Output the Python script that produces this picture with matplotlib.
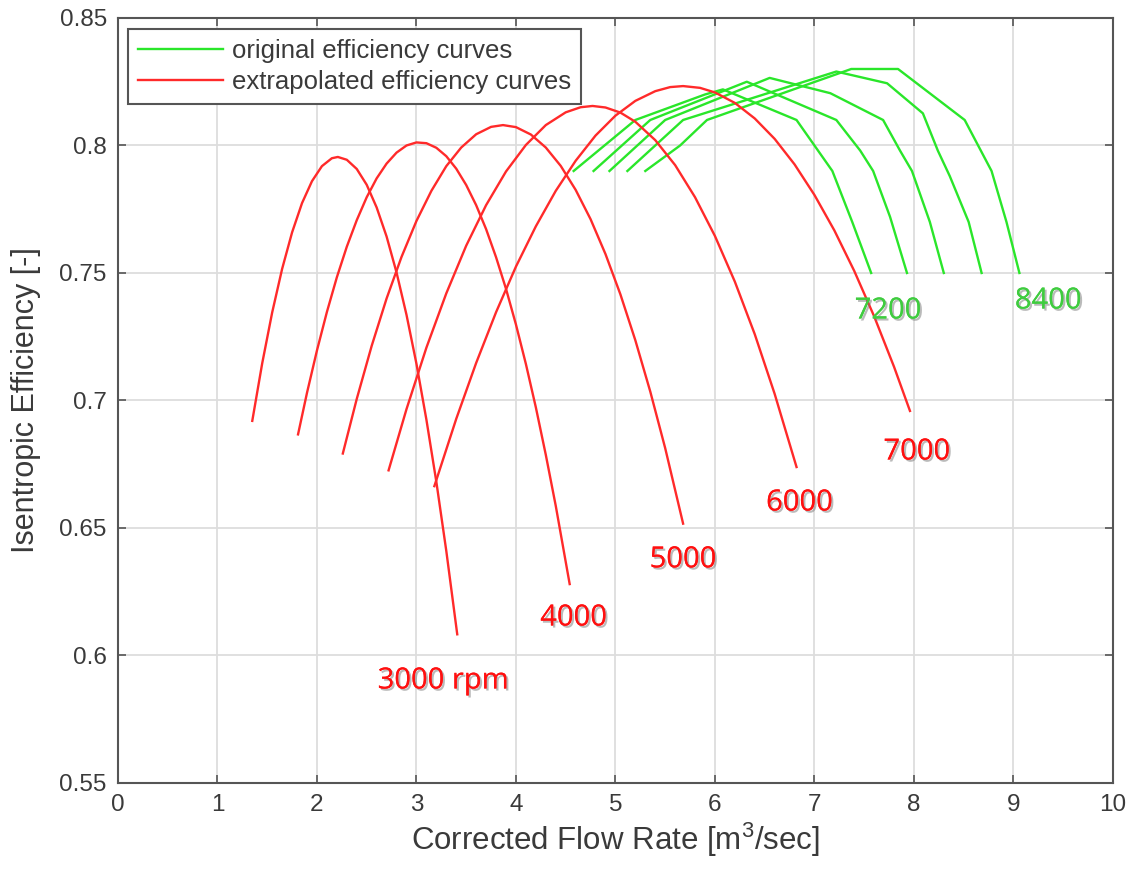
import matplotlib
matplotlib.use("Agg")
import matplotlib.pyplot as plt
import matplotlib.patheffects as pe
from matplotlib.ticker import FuncFormatter

# ---------------- data ----------------
# extrapolated (red) efficiency curves
x3000 = [1.35, 1.45, 1.55, 1.65, 1.75, 1.85, 1.95, 2.05, 2.15, 2.21, 2.30, 2.40, 2.50,
         2.60, 2.70, 2.80, 2.90, 3.00, 3.10, 3.20, 3.30, 3.41]
y3000 = [0.692, 0.7146, 0.7345, 0.7516, 0.7659, 0.7774, 0.786, 0.7919, 0.795, 0.7955,
         0.7944, 0.7908, 0.7846, 0.7757, 0.7643, 0.7502, 0.7336, 0.7144, 0.6925, 0.6681,
         0.641, 0.6083]

x4000 = [1.81, 1.90, 2.00, 2.10, 2.20, 2.30, 2.40, 2.50, 2.60, 2.70, 2.80, 2.90, 3.00,
         3.10, 3.20, 3.30, 3.40, 3.50, 3.60, 3.70, 3.80, 3.90, 4.00, 4.10, 4.20, 4.30,
         4.40, 4.54]
y4000 = [0.6867, 0.703, 0.7196, 0.7347, 0.7483, 0.7603, 0.7707, 0.7797, 0.7871, 0.7929,
         0.7972, 0.8, 0.8012, 0.8009, 0.7991, 0.7958, 0.7909, 0.7845, 0.7766, 0.7672,
         0.7562, 0.7438, 0.7298, 0.7143, 0.6973, 0.6787, 0.6587, 0.628]

x5000 = [2.26, 2.40, 2.55, 2.70, 2.85, 3.00, 3.15, 3.30, 3.45, 3.60, 3.75, 3.87, 4.00,
         4.15, 4.30, 4.45, 4.60, 4.75, 4.90, 5.05, 5.20, 5.35, 5.50, 5.68]
y5000 = [0.6792, 0.7006, 0.7214, 0.74, 0.7563, 0.7704, 0.7822, 0.7919, 0.7992, 0.8044,
         0.8073, 0.808, 0.8072, 0.8043, 0.7992, 0.792, 0.7826, 0.7711, 0.7574, 0.7416,
         0.7236, 0.7035, 0.6813, 0.6517]

x6000 = [2.72, 2.90, 3.10, 3.30, 3.50, 3.70, 3.90, 4.10, 4.30, 4.50, 4.65, 4.77, 4.90,
         5.05, 5.20, 5.40, 5.60, 5.80, 6.00, 6.20, 6.40, 6.60, 6.82]
y6000 = [0.6726, 0.6966, 0.7207, 0.742, 0.7607, 0.7766, 0.7898, 0.8002, 0.808, 0.813,
         0.815, 0.8155, 0.8149, 0.8129, 0.8093, 0.8021, 0.7923, 0.7797, 0.7645, 0.7466,
         0.726, 0.7026, 0.6739]

x7000 = [3.18, 3.40, 3.60, 3.80, 4.00, 4.20, 4.40, 4.60, 4.80, 5.00, 5.20, 5.40, 5.55,
         5.68, 5.85, 6.00, 6.20, 6.40, 6.60, 6.80, 7.00, 7.20, 7.40, 7.60, 7.80, 7.96]
y7000 = [0.6664, 0.6928, 0.7147, 0.7346, 0.7525, 0.7683, 0.7822, 0.794, 0.8039, 0.8117,
         0.8175, 0.8213, 0.8229, 0.8233, 0.8226, 0.8208, 0.8167, 0.8106, 0.8026, 0.7926,
         0.7806, 0.7667, 0.7508, 0.733, 0.7132, 0.6959]

# original (green) efficiency curves
x7200 = [4.58, 5.20, 5.90, 6.08, 6.82, 7.18, 7.38, 7.57]
y7200 = [0.790, 0.810, 0.820, 0.822, 0.810, 0.790, 0.770, 0.750]
x7500 = [4.78, 5.35, 6.32, 7.22, 7.46, 7.59, 7.76, 7.93]
y7500 = [0.790, 0.810, 0.825, 0.810, 0.798, 0.790, 0.772, 0.750]
x7800 = [4.94, 5.50, 6.55, 7.16, 7.69, 7.86, 7.98, 8.16, 8.30]
y7800 = [0.790, 0.810, 0.8265, 0.8205, 0.810, 0.798, 0.790, 0.770, 0.750]
x8100 = [5.12, 5.68, 7.22, 7.73, 8.09, 8.24, 8.36, 8.55, 8.68]
y8100 = [0.790, 0.810, 0.829, 0.8244, 0.8126, 0.798, 0.788, 0.770, 0.750]
x8400 = [5.30, 5.65, 5.92, 7.37, 7.84, 8.51, 8.78, 8.93, 9.06]
y8400 = [0.790, 0.800, 0.810, 0.830, 0.830, 0.810, 0.790, 0.770, 0.750]

red_curves = [(x3000, y3000), (x4000, y4000), (x5000, y5000), (x6000, y6000), (x7000, y7000)]
green_curves = [(x7200, y7200), (x7500, y7500), (x7800, y7800), (x8100, y8100), (x8400, y8400)]

red_labels = ["3000 rpm", "4000", "5000", "6000", "7000"]
red_label_x = [3.27, 4.58, 5.68, 6.85, 8.03]
red_label_y = [0.590, 0.6147, 0.6375, 0.6598, 0.6798]
green_labels = ["7200", "8400"]
green_label_x = [7.74, 9.35]
green_label_y = [0.7351, 0.739]

xticks = list(range(0, 11))
yticks = [0.55, 0.6, 0.65, 0.7, 0.75, 0.8, 0.85]

legend_labels = ["original efficiency curves", "extrapolated efficiency curves"]
xlabel = "Corrected Flow Rate [m$^3$/sec]"
ylabel = "Isentropic Efficiency [-]"

# ---------------- styling ----------------
RED = "#ff2a2a"
GREEN = "#2ae62a"
AXC = "#555555"
TXT = "#3a3a3a"

plt.rcParams['font.family'] = ['Liberation Sans', 'DejaVu Sans']
plt.rcParams['mathtext.fontset'] = 'custom'
plt.rcParams['mathtext.rm'] = 'Liberation Sans'

fig = plt.figure(figsize=(11.33, 8.69), dpi=100)
ax = fig.add_axes([0.1041, 0.099, 0.8782, 0.8803])

for i, (xs, ys) in enumerate(green_curves):
    ax.plot(xs, ys, color=GREEN, lw=1.7, solid_joinstyle='round',
            label=legend_labels[0] if i == 0 else None, zorder=3)
for i, (xs, ys) in enumerate(red_curves):
    ax.plot(xs, ys, color=RED, lw=1.7, solid_joinstyle='round',
            label=legend_labels[1] if i == 0 else None, zorder=3)

shadow = [pe.withSimplePatchShadow(offset=(1.5, -1.5), shadow_rgbFace='#777777', alpha=0.5),
          pe.Normal()]
for t, x, y in zip(red_labels, red_label_x, red_label_y):
    ax.text(x, y, t, color='#ff1010', fontsize=21, family=['Open Sans', 'DejaVu Sans'],
            ha='center', va='center', path_effects=shadow, zorder=5)
for t, x, y in zip(green_labels, green_label_x, green_label_y):
    ax.text(x, y, t, color='#3fcc3f', fontsize=21, family=['Open Sans', 'DejaVu Sans'],
            ha='center', va='center', path_effects=shadow, zorder=5)

ax.set_xlim(0, 10)
ax.set_ylim(0.55, 0.85)
ax.set_xticks(xticks)
ax.set_yticks(yticks)
ax.yaxis.set_major_formatter(FuncFormatter(lambda v, p: f"{v:g}"))
ax.grid(True, color="#dddddd", lw=1.3, zorder=0)
ax.set_axisbelow(True)
ax.tick_params(direction='in', top=True, right=True, length=6, width=1.2,
               colors=AXC, labelcolor=TXT, labelsize=17.5, pad=8)
for s in ax.spines.values():
    s.set_color(AXC)
    s.set_linewidth(1.5)

ax.set_xlabel(xlabel, fontsize=22.5, color=TXT, labelpad=3)
ax.set_ylabel(ylabel, fontsize=22, color=TXT, labelpad=13)

leg = ax.legend(loc='upper left', bbox_to_anchor=(0.0105, 0.985), fontsize=18.5,
                frameon=True, fancybox=False, edgecolor=AXC, framealpha=1,
                handlelength=3.3, handletextpad=0.35, borderpad=0.38, labelspacing=0.28,
                borderaxespad=0)
leg.get_frame().set_linewidth(1.5)
for t in leg.get_texts():
    t.set_color(TXT)

fig.savefig("out.png", dpi=100, facecolor='white')
